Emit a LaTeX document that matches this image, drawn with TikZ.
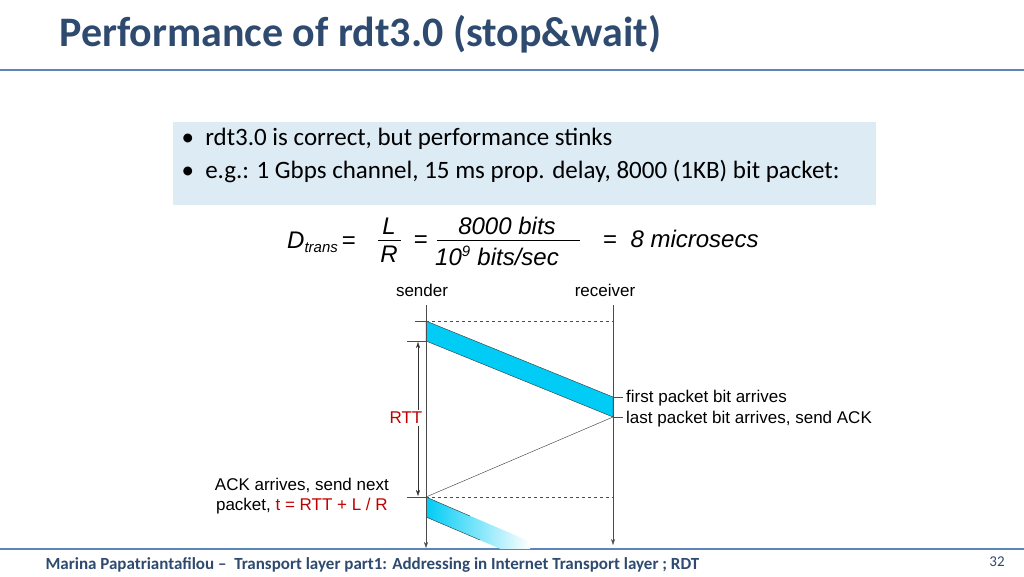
\documentclass[tikz,border=0pt]{standalone}
\usepackage{fontspec}
\setmainfont{Carlito}
\newfontfamily\diagfont{Liberation Sans}
\usetikzlibrary{arrows.meta}
\definecolor{titleblue}{HTML}{2E4A6F}
\definecolor{rulebl}{HTML}{5B84B8}
\definecolor{boxbl}{HTML}{DDEBF5}
\definecolor{pktcyan}{HTML}{00CCF5}
\definecolor{rttred}{HTML}{C00000}
\tikzset{
  lbl/.style={font=\diagfont\fontsize{17}{20}\selectfont, inner sep=1pt},
  timeline/.style={draw=black!70, -{Stealth[length=6pt,width=4pt]}},
  packet/.style={fill=pktcyan, draw=black!80},
  ticks/.style={draw=black!70},
  guide/.style={draw=black!70, dashed}
}
\begin{document}
\begin{tikzpicture}[x=1pt,y=-1pt]
  \useasboundingbox (0,0) rectangle (1024,576);
  % title and rules
  \node[anchor=west, text=titleblue, font=\bfseries\fontsize{42}{46}\selectfont] (title) at (56,34) {Performance of rdt3.0 (stop\&wait)};
  \draw[rulebl, line width=1.5pt] (0,70) -- (1024,70);
  \draw[rulebl, line width=1.5pt] (0,549) -- (1024,549);
  % bullet box
  \fill[boxbl] (173,122) rectangle (876,205);
  \node[anchor=west, font=\fontsize{25}{28}\selectfont] (b1) at (178,139) {\textbullet\ \ rdt3.0 is correct, but performance stinks};
  \node[anchor=west, font=\fontsize{25}{28}\selectfont] (b2) at (178,172) {\textbullet\ \ e.g.: 1 Gbps channel, 15 ms prop. delay, 8000 (1KB) bit packet:};
  % formula
  \begin{scope}[font=\diagfont\itshape\fontsize{24}{26}\selectfont]
    \node[anchor=base west, inner sep=0] (D) at (287,248) {D\raisebox{-4pt}{\fontsize{15}{16}\selectfont trans}\,\upshape =};
    \node[inner sep=0] (L) at (389,226) {L};
    \node[inner sep=0] (R) at (389,254) {R};
    \draw (378,240) -- (401,240);
    \node[inner sep=0] (eq2) at (421,242) {\upshape =};
    \node[inner sep=0] (num) at (507,226) {8000 bits};
    \node[inner sep=0] (den) at (497,256) {10\textsuperscript{\fontsize{15}{16}\selectfont 9} bits/sec};
    \draw (437,240) -- (580,240);
    \node[anchor=base west, inner sep=0] (res) at (603,247) {\upshape =\ \ \itshape 8 microsecs};
  \end{scope}
  % timelines
  \node[lbl] (snd) at (422,290) {sender};
  \node[lbl] (rcv) at (605,290) {receiver};
  \coordinate (s0) at (426,305);
  \coordinate (s1) at (426,548);
  \coordinate (r0) at (613,305);
  \coordinate (r1) at (613,545);
  \coordinate (p1) at (426,321);
  \coordinate (p2) at (426,341);
  \coordinate (q1) at (613,397);
  \coordinate (q2) at (613,417);
  \coordinate (a1) at (426,497);
  \coordinate (a2) at (426,517);
  % second packet, fading out
  \begin{scope}
    \clip (426,497) -- (613,577) -- (613,597) -- (426,517) -- cycle;
    \shade[left color=pktcyan, right color=white] (426,490) rectangle (530,548);
  \end{scope}
  \draw[black!80] (426,497) -- (470,516);
  \draw[black!80] (426,517) -- (480,540);
  \draw[packet] (p1) -- (q1) -- (q2) -- (p2) -- cycle;
  \draw[timeline] (s0) -- (s1);
  \draw[timeline] (r0) -- (r1);
  \draw[guide] (p1) -- (613,321);
  \draw[guide] (a1) -- (613,497);
  \draw[ticks] (415,321) -- (p1);
  \draw[ticks] (407,341) -- (p2);
  \draw[ticks] (407,497) -- (a1);
  \draw[black!80] (q2) -- (a1);
  \draw[ticks] (q1) -- (623,397);
  \draw[ticks] (q2) -- (623,417);
  \draw[{Stealth[length=6pt,width=4pt]}-{Stealth[length=6pt,width=4pt]}, black!80] (418,342) -- (418,496);
  \node[lbl, text=rttred, fill=white, inner sep=2pt] (rtt) at (406,418) {RTT};
  \node[lbl, anchor=west] (fpa) at (625,398) {first packet bit arrives};
  \node[lbl, anchor=west] (lpa) at (625,419) {last packet bit arrives, send ACK};
  \node[lbl, anchor=east, align=center] (ack) at (390,496) {ACK arrives, send next\\packet, \textcolor{rttred}{t = RTT + L / R}};
  % footer
  \node[anchor=west, text=titleblue, font=\bfseries\fontsize{17}{19}\selectfont] (foot) at (42,565) {Marina Papatriantafilou -- \ Transport layer part1: Addressing in Internet Transport layer ; RDT};
  \node[text=titleblue, font=\fontsize{15}{17}\selectfont] (pg) at (997,562) {32};
\end{tikzpicture}
\end{document}
